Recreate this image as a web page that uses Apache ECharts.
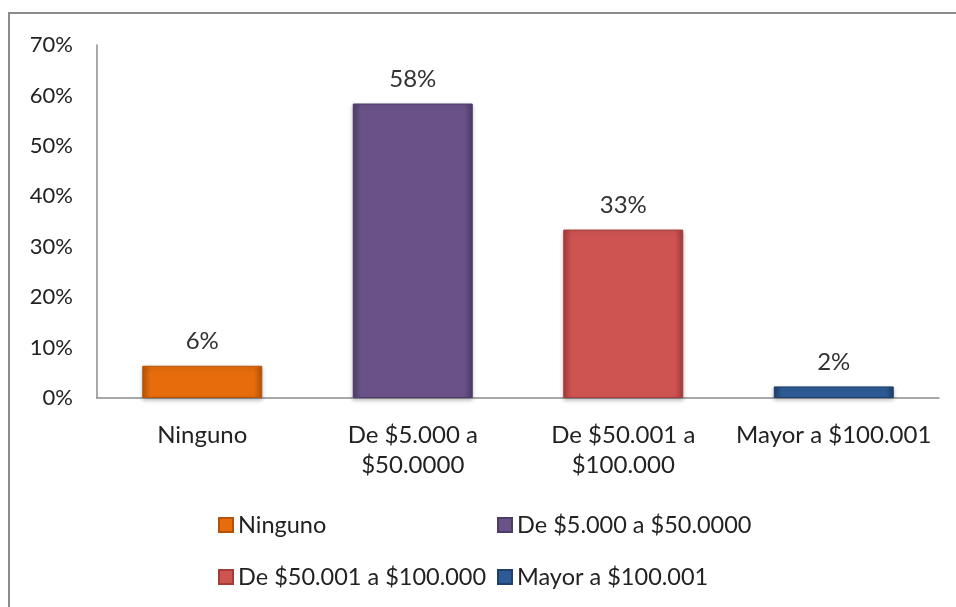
<!DOCTYPE html>
<html><head><meta charset="utf-8">
<script src="https://cdn.jsdelivr.net/npm/echarts@6/dist/echarts.min.js"></script>
<style>html,body{margin:0;padding:0;background:#fff}#c{width:956px;height:607px}</style>
</head><body><div id="c"></div>
<script>
var categories = ['Ninguno', 'De $5.000 a\n$50.0000', 'De $50.001 a\n$100.000', 'Mayor a $100.001'];
var seriesNames = ['Ninguno', 'De $5.000 a $50.0000', 'De $50.001 a $100.000', 'Mayor a $100.001'];
var values = [6.4, 58.4, 33.4, 2.3];
var yTicks = [0, 10, 20, 30, 40, 50, 60, 70];
var palette = [
  {top:'#FBA55A', main:'#E66C0C', edge:'#B55408'},
  {top:'#9480B3', main:'#6A5289', edge:'#4E3C68'},
  {top:'#EC8A88', main:'#CE5452', edge:'#A33C3A'},
  {top:'#5B8AC8', main:'#2E5B96', edge:'#1F406C'}
];
var FONT = 'Lato';
function grad(p){
  return {type:'linear',x:0,y:0,x2:1,y2:0,colorStops:[
    {offset:0,color:p.edge},{offset:0.07,color:p.main},{offset:0.5,color:p.main},{offset:0.93,color:p.main},{offset:1,color:p.edge}]};
}
var series = seriesNames.map(function(name, i){
  var d = categories.map(function(c, j){ return j === i ? values[i] : '-'; });
  return {
    name: name, type: 'bar', stack: 'all', barWidth: 120, data: d,
    itemStyle: {color: grad(palette[i]), borderColor: palette[i].edge, borderWidth: 1,
      shadowColor: 'rgba(0,0,0,0.25)', shadowBlur: 4, shadowOffsetY: 2},
    label: {show: true, position: 'top', distance: 12, fontFamily: FONT, fontSize: 24, color: '#333',
      formatter: function(p){ return Math.round(p.value) + '%'; }}
  };
});
var legendPos = [[218, 513], [497, 513], [218, 565], [497, 565]];
var legends = seriesNames.map(function(n, i){
  return {data: [n], left: legendPos[i][0], top: legendPos[i][1], itemWidth: 14, itemHeight: 14, itemGap: 7, padding: 0,
    icon: 'rect', textStyle: {fontFamily: FONT, fontSize: 23.5, color: '#222'}};
});
var chart = echarts.init(document.getElementById('c'));
chart.setOption({
  animation: false,
  color: palette.map(function(p){return p.main;}),
  graphic: [{type:'rect', shape:{x:9, y:13, width:1000, height:700}, style:{fill:'none', stroke:'#8c8c8c', lineWidth:2}, silent:true}],
  grid: {left: 97, right: 17, top: 45, bottom: 209},
  legend: legends,
  xAxis: {type: 'category', data: categories,
    axisLine: {lineStyle: {color: '#8c8c8c', width: 1.5}}, axisTick: {show: false},
    axisLabel: {interval: 0, margin: 22, fontFamily: FONT, fontSize: 24, color: '#222', lineHeight: 30}},
  yAxis: {type: 'value', min: yTicks[0], max: yTicks[yTicks.length-1], interval: 10,
    splitLine: {show: false}, axisTick: {show: false},
    axisLine: {show: true, lineStyle: {color: '#8c8c8c', width: 1.5}},
    axisLabel: {margin: 24, fontFamily: FONT, fontSize: 22, color: '#222', formatter: '{value}%'}},
  series: series
});
</script></body></html>
